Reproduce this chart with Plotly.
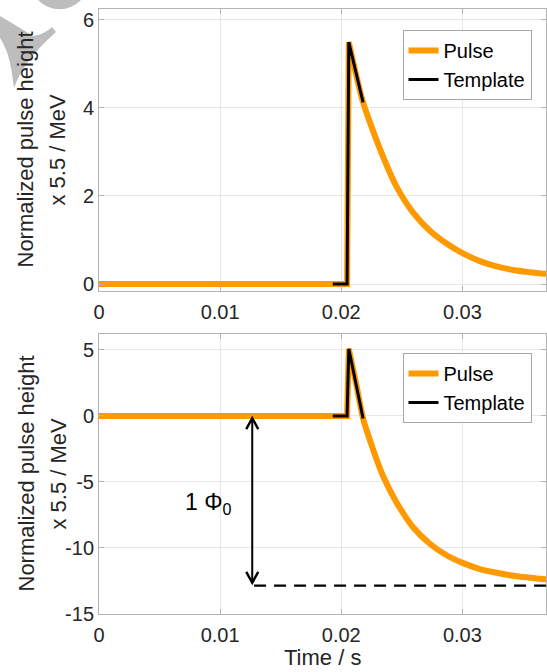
import plotly.graph_objects as go

# ---------------- data ----------------
t_rise = [0.0, 0.02048, 0.02062]
top_rise = [0.0, 0.0, 5.49]
bot_rise = [0.0, 0.0, 5.08]

t_top_decay = [0.02062, 0.0212, 0.0218, 0.02263, 0.02345, 0.02456, 0.02593, 0.02731,
               0.02869, 0.03001, 0.03144, 0.03282, 0.03419, 0.03557, 0.03697]
top_decay = [5.49, 4.78, 4.12, 3.47, 2.89, 2.21, 1.62, 1.21,
             0.92, 0.70, 0.52, 0.40, 0.32, 0.27, 0.23]

t_bot_decay = [0.02062, 0.0212, 0.0218, 0.02208, 0.02263, 0.02345, 0.02456, 0.02593,
               0.02731, 0.02869, 0.03001, 0.03144, 0.03282, 0.03419, 0.03557, 0.03697]
bot_decay = [5.08, 2.55, -0.2, -1.05, -2.55, -4.55, -6.55, -8.43,
             -9.68, -10.55, -11.13, -11.6, -11.88, -12.1, -12.25, -12.38]

t_template = [0.0193, 0.02048, 0.02062, 0.0212, 0.0218]
top_template = [0.0, 0.0, 5.49, 4.78, 4.12]
bot_template = [0.0, 0.0, 5.08, 2.55, -0.2]

phi_x = 0.01265
phi_top = -0.17
phi_bottom = -12.64
phi_level = -12.85
dash_x = [0.0128, 0.0372]
dash_y = [phi_level, phi_level]
phi_label_x = 0.00902
phi_label_y = -6.62

x_ticks = [0, 0.01, 0.02, 0.03]
x_ticktext = ["0", "0.01", "0.02", "0.03"]
top_yticks = [0, 2, 4, 6]
top_yticktext = ["0", "2", "4", "6"]
bot_yticks = [-15, -10, -5, 0, 5]
bot_yticktext = ["-15", "-10", "-5", "0", "5"]

# ---------------- styling ----------------
FONT = "Liberation Sans, Arial, Helvetica, sans-serif"
ORANGE = "#FF9900"
W, H = 547, 672
L, R, T, B = 99, 1, 9, 58
PW, PH = W - L - R, H - T - B


def pp(xp, yp):
    return (xp - L) / PW, (H - B - yp) / PH


fig = go.Figure()

# top subplot
fig.add_trace(go.Scatter(x=t_rise, y=top_rise, mode="lines", name="Pulse",
                         line=dict(color=ORANGE, width=6), legendgroup="p1",
                         xaxis="x", yaxis="y", legend="legend"))
fig.add_trace(go.Scatter(x=t_top_decay, y=top_decay, mode="lines", name="Pulse",
                         line=dict(color=ORANGE, width=6, shape="spline", smoothing=1.0),
                         legendgroup="p1", showlegend=False, xaxis="x", yaxis="y"))
fig.add_trace(go.Scatter(x=t_template, y=top_template, mode="lines", name="Template",
                         line=dict(color="black", width=3), legendgroup="t1",
                         xaxis="x", yaxis="y", legend="legend"))

# bottom subplot
fig.add_trace(go.Scatter(x=t_rise, y=bot_rise, mode="lines", name="Pulse",
                         line=dict(color=ORANGE, width=6), legendgroup="p2",
                         xaxis="x2", yaxis="y2", legend="legend2"))
fig.add_trace(go.Scatter(x=t_bot_decay, y=bot_decay, mode="lines", name="Pulse",
                         line=dict(color=ORANGE, width=6, shape="spline", smoothing=1.0),
                         legendgroup="p2", showlegend=False, xaxis="x2", yaxis="y2"))
fig.add_trace(go.Scatter(x=t_template, y=bot_template, mode="lines", name="Template",
                         line=dict(color="black", width=3), legendgroup="t2",
                         xaxis="x2", yaxis="y2", legend="legend2"))
fig.add_trace(go.Scatter(x=dash_x, y=dash_y, mode="lines", showlegend=False,
                         line=dict(color="black", width=2.3, dash="12px,8px"),
                         xaxis="x2", yaxis="y2"))

axis_common = dict(showline=True, linecolor="#b3b3b3", linewidth=1, mirror="ticks",
                   ticks="inside", ticklen=5, tickwidth=1, tickcolor="#b3b3b3",
                   showgrid=True, gridcolor="#e8e8e8", gridwidth=1, zeroline=False,
                   tickfont=dict(family=FONT, size=20, color="#262626"))

legend_common = dict(xanchor="right", yanchor="top", bgcolor="white",
                     bordercolor="#a6a6a6", borderwidth=1, itemwidth=30,
                     tracegroupgap=0, font=dict(family=FONT, size=20, color="black"))

shapes = []
# watermark fragments (top-left corner)
cx0, cy0 = pp(30.2, -49.3)
cx1, cy1 = pp(88.8, 9.3)
shapes.append(dict(type="circle", xref="paper", yref="paper", x0=cx0, y0=cy1, x1=cx1, y1=cy0,
                   fillcolor="#bdbdbd", line=dict(width=0), layer="below"))
horn = [("M", [(0, 16)]), ("L", [(20, 28)]), ("L", [(33, 36)]),
        ("Q", [(45, 34), (52, 27)]), ("L", [(56, 32)]),
        ("Q", [(38, 48), (28, 62)]), ("Q", [(18, 76), (14, 88)]),
        ("Q", [(12, 70), (8, 55)]), ("Q", [(4, 44), (0, 38)])]
path = ""
for cmd, pts in horn:
    path += cmd + " " + " ".join("%.5f,%.5f" % pp(a, b) for a, b in pts) + " "
path += "Z"
shapes.append(dict(type="path", xref="paper", yref="paper", path=path,
                   fillcolor="#bdbdbd", line=dict(width=0), layer="below"))

# double arrow for 1 Phi_0
shapes.append(dict(type="line", xref="x2", yref="y2", x0=phi_x, x1=phi_x,
                   y0=phi_top, y1=phi_bottom, line=dict(color="black", width=2)))
shapes.append(dict(type="path", xref="x2", yref="y2", xsizemode="pixel", ysizemode="pixel",
                   xanchor=phi_x, yanchor=phi_top, path="M -6,-11 L 0,0 L 6,-11",
                   line=dict(color="black", width=2.4)))
shapes.append(dict(type="path", xref="x2", yref="y2", xsizemode="pixel", ysizemode="pixel",
                   xanchor=phi_x, yanchor=phi_bottom, path="M -6,11 L 0,0 L 6,11",
                   line=dict(color="black", width=2.4)))

annotations = []
# y-axis titles (two lines each)
for yc in (pp(0, 150)[1], pp(0, 474)[1]):
    annotations.append(dict(text="Normalized pulse height", xref="paper", yref="paper",
                            x=pp(25.5, 0)[0], y=yc, xanchor="center", yanchor="middle",
                            textangle=-90, showarrow=False,
                            font=dict(family=FONT, size=22, color="#262626")))
    annotations.append(dict(text="x 5.5 / MeV", xref="paper", yref="paper",
                            x=pp(57.5, 0)[0], y=yc, xanchor="center", yanchor="middle",
                            textangle=-90, showarrow=False,
                            font=dict(family=FONT, size=22, color="#262626")))
annotations.append(dict(text="Time / s", xref="paper", yref="paper", x=0.5,
                        y=pp(0, 671)[1], xanchor="center", yanchor="bottom",
                        showarrow=False, borderpad=0,
                        font=dict(family=FONT, size=22, color="#262626")))
annotations.append(dict(text="1 Φ<sub>0</sub>", xref="x2", yref="y2", x=phi_label_x,
                        y=phi_label_y, xanchor="center", yanchor="middle", showarrow=False,
                        font=dict(family=FONT, size=23, color="black")))

fig.update_layout(
    width=W, height=H,
    margin=dict(l=L, r=R, t=T, b=B, autoexpand=False),
    paper_bgcolor="white", plot_bgcolor="white",
    font=dict(family=FONT, size=20, color="#262626"),
    xaxis=dict(axis_common, domain=[0, 1], anchor="y", range=[0, 0.0369],
               tickvals=x_ticks, ticktext=x_ticktext, ticklabelstandoff=3),
    yaxis=dict(axis_common, domain=[0.5344, 1], anchor="x", range=[-0.15, 6.24],
               tickvals=top_yticks, ticktext=top_yticktext),
    xaxis2=dict(axis_common, domain=[0, 1], anchor="y2", range=[0, 0.0369],
                tickvals=x_ticks, ticktext=x_ticktext, ticklabelstandoff=3),
    yaxis2=dict(axis_common, domain=[0, 0.4628], anchor="x2", range=[-15, 6.2],
                tickvals=bot_yticks, ticktext=bot_yticktext),
    legend=dict(legend_common, x=pp(531.5, 0)[0], y=pp(0, 30)[1]),
    legend2=dict(legend_common, x=pp(531.5, 0)[0], y=pp(0, 353)[1]),
    shapes=shapes,
    annotations=annotations,
    showlegend=True,
)

fig.write_html("out.html", config={"displayModeBar": False},
               post_script="document.body.style.margin='0px';"
                           "document.body.style.overflow='hidden';")
